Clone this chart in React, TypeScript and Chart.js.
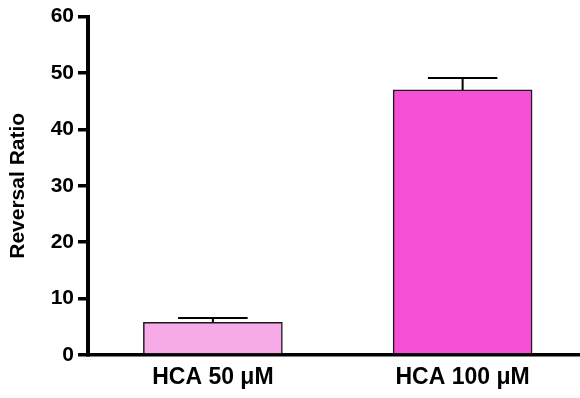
import React, { useEffect, useRef } from "react";
import { Chart, registerables } from "chart.js";

Chart.register(...registerables);

const categories = ["HCA 50 μM", "HCA 100 μM"];
const means = [5.8, 47.0];
const errors = [0.75, 2.1];
const barColors = ["rgb(246,170,230)", "rgb(245,79,213)"];
const yTicks = [0, 10, 20, 30, 40, 50, 60];

const FONT = "'Liberation Sans', Arial, Helvetica, sans-serif";

const errorBarPlugin = {
  id: "errorBars",
  afterDatasetsDraw(chart: any) {
    const ctx = chart.ctx;
    const meta = chart.getDatasetMeta(0);
    const yScale = chart.scales.y;
    ctx.save();
    ctx.strokeStyle = "#000";
    ctx.lineWidth = 2;
    meta.data.forEach((bar: any, i: number) => {
      const x = bar.x;
      const yTop = yScale.getPixelForValue(means[i]);
      const yCap = yScale.getPixelForValue(means[i] + errors[i]);
      const half = bar.width / 4;
      ctx.beginPath();
      ctx.moveTo(x, yTop);
      ctx.lineTo(x, yCap);
      ctx.moveTo(x - half, yCap);
      ctx.lineTo(x + half, yCap);
      ctx.stroke();
    });
    ctx.restore();
  },
};

export default function App() {
  const ref = useRef<HTMLCanvasElement | null>(null);

  useEffect(() => {
    document.body.style.margin = "0";
    const canvas = ref.current;
    if (!canvas) return;
    const chart = new Chart(canvas, {
      type: "bar",
      data: {
        datasets: [
          {
            data: means.map((v, i) => ({ x: i, y: v })),
            backgroundColor: barColors,
            borderColor: "#1a1a1a",
            borderWidth: 1.5,
            barThickness: 139,
          },
        ],
      },
      options: {
        responsive: false,
        animation: false,
        layout: { padding: { top: 10, left: 0, right: 0, bottom: 0 } },
        plugins: {
          legend: { display: false },
          tooltip: { enabled: false },
        },
        scales: {
          x: {
            type: "linear",
            min: -0.5,
            max: 1.47,
            offset: false,
            grid: { display: false, drawTicks: false, offset: false },
            border: { display: true, color: "#000", width: 3.5 },
            afterBuildTicks: (scale: any) => {
              scale.ticks = categories.map((_, i) => ({ value: i }));
            },
            afterFit: (scale: any) => {
              scale.height = 43;
            },
            ticks: {
              autoSkip: false,
              maxRotation: 0,
              padding: 9,
              color: "#000",
              font: { family: FONT, weight: "bold", size: 23 },
              callback: (v: any) => categories[Number(v)] ?? "",
            },
          },
          y: {
            min: 0,
            max: 60,
            afterBuildTicks: (scale: any) => {
              scale.ticks = yTicks.map((v) => ({ value: v }));
            },
            afterFit: (scale: any) => {
              scale.width = 88;
            },
            grid: {
              drawOnChartArea: false,
              drawTicks: true,
              tickLength: 10,
              lineWidth: 3.5,
              color: "#000",
            },
            border: { display: true, color: "#000", width: 4 },
            ticks: {
              padding: 4,
              color: "#000",
              font: { family: FONT, weight: "bold", size: 21 },
            },
            title: {
              display: true,
              text: "Reversal Ratio",
              color: "#000",
              font: { family: FONT, weight: "bold", size: 21 },
              padding: { top: 6, bottom: 0 },
            },
          },
        },
      },
      plugins: [errorBarPlugin],
    } as any);
    return () => chart.destroy();
  }, []);

  return (
    <div style={{ width: 580, height: 398 }}>
      <canvas ref={ref} width={580} height={398} />
    </div>
  );
}
